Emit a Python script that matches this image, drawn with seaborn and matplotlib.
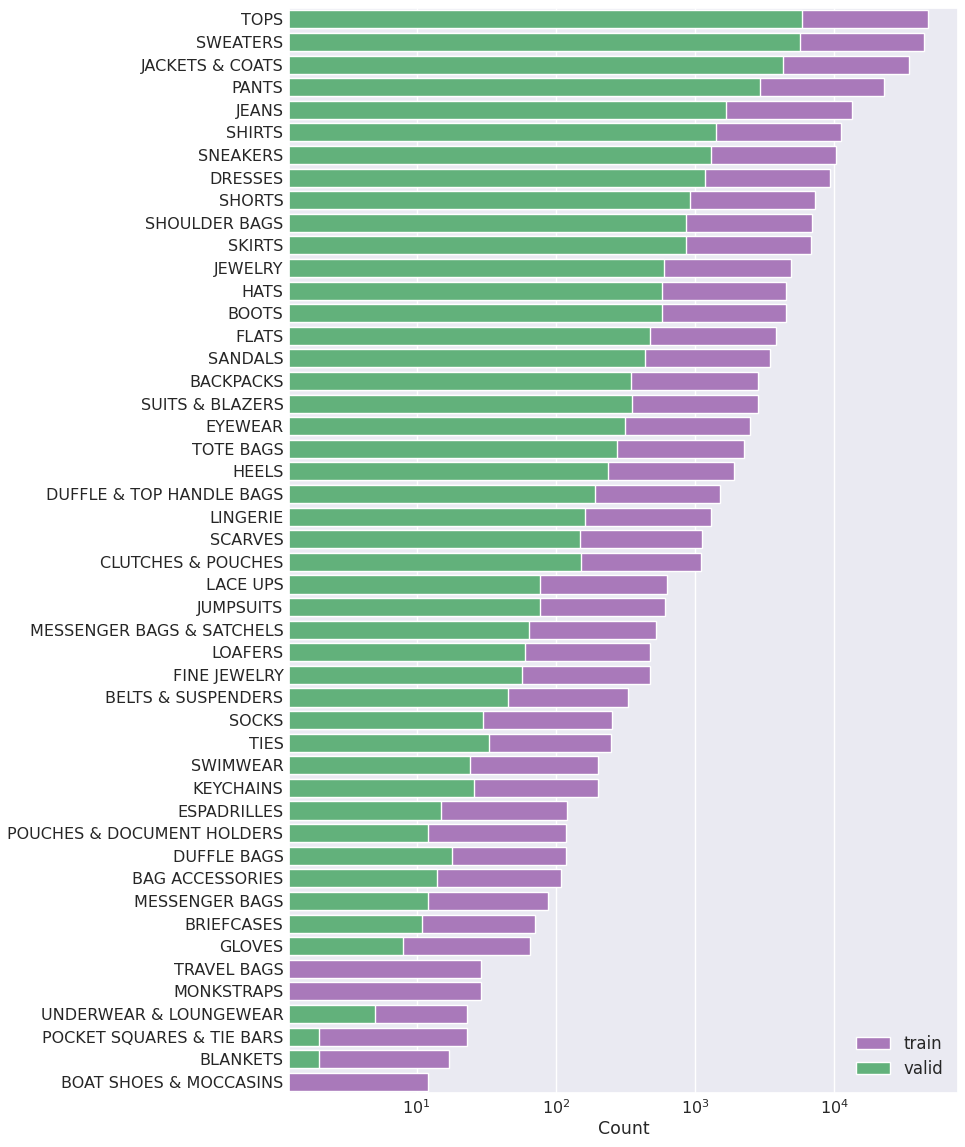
import matplotlib
matplotlib.use("Agg")
import matplotlib.pyplot as plt
import seaborn as sns

# Category counts (log-scale bar chart)
categories = [
    "TOPS", "SWEATERS", "JACKETS & COATS", "PANTS", "JEANS", "SHIRTS",
    "SNEAKERS", "DRESSES", "SHORTS", "SHOULDER BAGS", "SKIRTS", "JEWELRY",
    "HATS", "BOOTS", "FLATS", "SANDALS", "BACKPACKS", "SUITS & BLAZERS",
    "EYEWEAR", "TOTE BAGS", "HEELS", "DUFFLE & TOP HANDLE BAGS", "LINGERIE",
    "SCARVES", "CLUTCHES & POUCHES", "LACE UPS", "JUMPSUITS",
    "MESSENGER BAGS & SATCHELS", "LOAFERS", "FINE JEWELRY",
    "BELTS & SUSPENDERS", "SOCKS", "TIES", "SWIMWEAR", "KEYCHAINS",
    "ESPADRILLES", "POUCHES & DOCUMENT HOLDERS", "DUFFLE BAGS",
    "BAG ACCESSORIES", "MESSENGER BAGS", "BRIEFCASES", "GLOVES",
    "TRAVEL BAGS", "MONKSTRAPS", "UNDERWEAR & LOUNGEWEAR",
    "POCKET SQUARES & TIE BARS", "BLANKETS", "BOAT SHOES & MOCCASINS",
]
train_counts = [
    47100, 44200, 34400, 22800, 13400, 11200, 10300, 9300, 7300, 6940, 6790,
    4880, 4510, 4510, 3830, 3460, 2830, 2830, 2490, 2250, 1910, 1520, 1300,
    1120, 1110, 628, 610, 525, 475, 475, 329, 254, 249, 200, 200, 120, 118,
    118, 109, 88, 71, 65, 29, 29, 23, 23, 17, 12,
]
valid_counts = [
    5870, 5640, 4290, 2910, 1660, 1420, 1300, 1180, 925, 860, 860, 601, 576,
    576, 478, 438, 349, 353, 315, 277, 236, 191, 161, 149, 152, 77, 77, 64,
    60, 57, 45, 30, 33, 24, 26, 15, 12, 18, 14, 12, 11, 8, 0, 0, 5, 2, 2, 0,
]

train_color = "#A979BA"
valid_color = "#62B17B"

sns.set_theme(style="darkgrid")
plt.rcParams["font.family"] = ["DejaVu Sans"]

fig = plt.figure(figsize=(9.65, 11.47), dpi=100)
ax = fig.add_axes([0.2995, 0.047, 0.693, 0.946])
ax.set_xscale("log")

sns.barplot(x=train_counts, y=categories, order=categories, color=train_color,
            saturation=1, label="train", ax=ax)
sns.barplot(x=valid_counts, y=categories, order=categories, color=valid_color,
            saturation=1, label="valid", ax=ax)

ax.set_xlim(1.21, 77300)
ax.set_xlabel("Count", fontsize=12.5, labelpad=2)
ax.set_ylabel("")
ax.tick_params(axis="both", which="both", length=0, pad=4, labelsize=11.5)
ax.legend(loc="lower right", fontsize=12, frameon=False, labelspacing=0.45)

fig.savefig("out.png", dpi=100)
